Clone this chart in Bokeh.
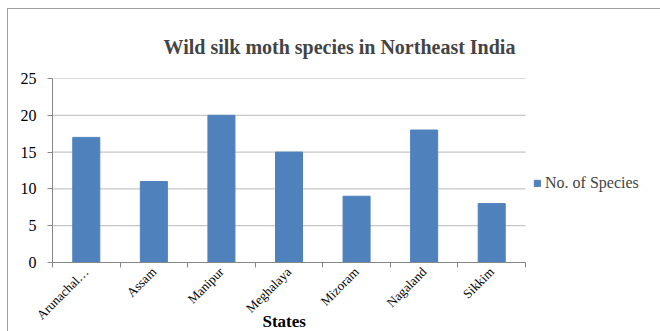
import math
from bokeh.plotting import figure
from bokeh.models import FixedTicker, Legend, LegendItem, Range1d, ColumnDataSource, Title
from bokeh.embed import file_html
from bokeh.resources import INLINE

states = ["Arunachal Pradesh", "Assam", "Manipur", "Meghalaya", "Mizoram", "Nagaland", "Sikkim"]
tick_labels = ["Arunachal\u2026", "Assam", "Manipur", "Meghalaya", "Mizoram", "Nagaland", "Sikkim"]
species = [17, 11, 20, 15, 9, 18, 8]
y_ticks = [0, 5, 10, 15, 20, 25]
series_name = "No. of Species"
x_title = "States"

n = len(states)
xs = [i + 0.5 for i in range(n)]
src = ColumnDataSource(dict(x=xs, top=species, state=states))

SERIF = "Liberation Serif"
GRID = "#b8b8b8"
AXIS = "#868686"

# frame: page x 51..655 ; data 0..n spans page 51..524 (473 px)
FRAME_W = 653 - 44 - 5
x_end = n * FRAME_W / 473.0

p = figure(width=653, height=323, output_backend="svg", toolbar_location=None,
           x_range=Range1d(0, x_end), y_range=Range1d(0, 25),
           min_border_left=44, min_border_right=5, min_border_top=69, min_border_bottom=70,
           margin=(8, 0, 0, 7),
           styles={"border-left": "1px solid #a0a0a0", "border-top": "1px solid #a0a0a0"})
p.outline_line_color = None

# horizontal gridlines limited to category extent
p.segment(x0=[0] * len(y_ticks), x1=[n] * len(y_ticks), y0=y_ticks, y1=y_ticks,
          line_color=GRID, line_width=1)

r = p.vbar(x="x", top="top", width=0.4, source=src, fill_color="#4F81BD", line_color="#4F81BD")

p.title.text = "Wild silk moth species in Northeast India"
p.title.text_font = SERIF
p.title.text_font_size = "20px"
p.title.text_font_style = "bold"
p.title.align = "left"
p.title.offset = 111
p.title.standoff = 42

p.xgrid.visible = False
p.ygrid.visible = False

p.yaxis.ticker = FixedTicker(ticks=y_ticks)
p.yaxis.axis_line_color = AXIS
p.yaxis.major_tick_line_color = AXIS
p.yaxis.major_tick_out = 5
p.yaxis.major_tick_in = 0
p.yaxis.minor_tick_line_color = None
p.yaxis.major_label_text_font = SERIF
p.yaxis.major_label_text_font_size = "16px"
p.yaxis.major_label_text_color = "black"
p.yaxis.major_label_standoff = 11

p.xaxis.bounds = (0, n)
p.xaxis.ticker = FixedTicker(ticks=xs, minor_ticks=list(range(n + 1)))
p.xaxis.major_label_overrides = {x: t for x, t in zip(xs, tick_labels)}
p.xaxis.major_label_orientation = math.pi / 4
p.xaxis.major_label_text_font = SERIF
p.xaxis.major_label_text_font_size = "13px"
p.xaxis.major_label_text_color = "black"
p.xaxis.major_label_standoff = 1
p.xaxis.major_tick_line_color = None
p.xaxis.minor_tick_line_color = AXIS
p.xaxis.minor_tick_out = 5
p.xaxis.minor_tick_in = 0
p.xaxis.axis_line_color = AXIS

# x axis title, centred under the category extent
p.add_layout(Title(text=x_title, align="left", offset=210, standoff=-37, vertical_align="top",
                   text_font=SERIF, text_font_size="17px", text_font_style="bold",
                   text_color="black"), "below")

legend = Legend(items=[LegendItem(label=series_name, renderers=[r])],
                location=(481, 70), border_line_color=None,
                background_fill_alpha=0, glyph_width=8, glyph_height=8,
                label_text_font=SERIF, label_text_font_size="16px",
                label_standoff=4, padding=0, margin=0)
p.add_layout(legend)

open("out.html", "w").write(file_html(p, INLINE))
